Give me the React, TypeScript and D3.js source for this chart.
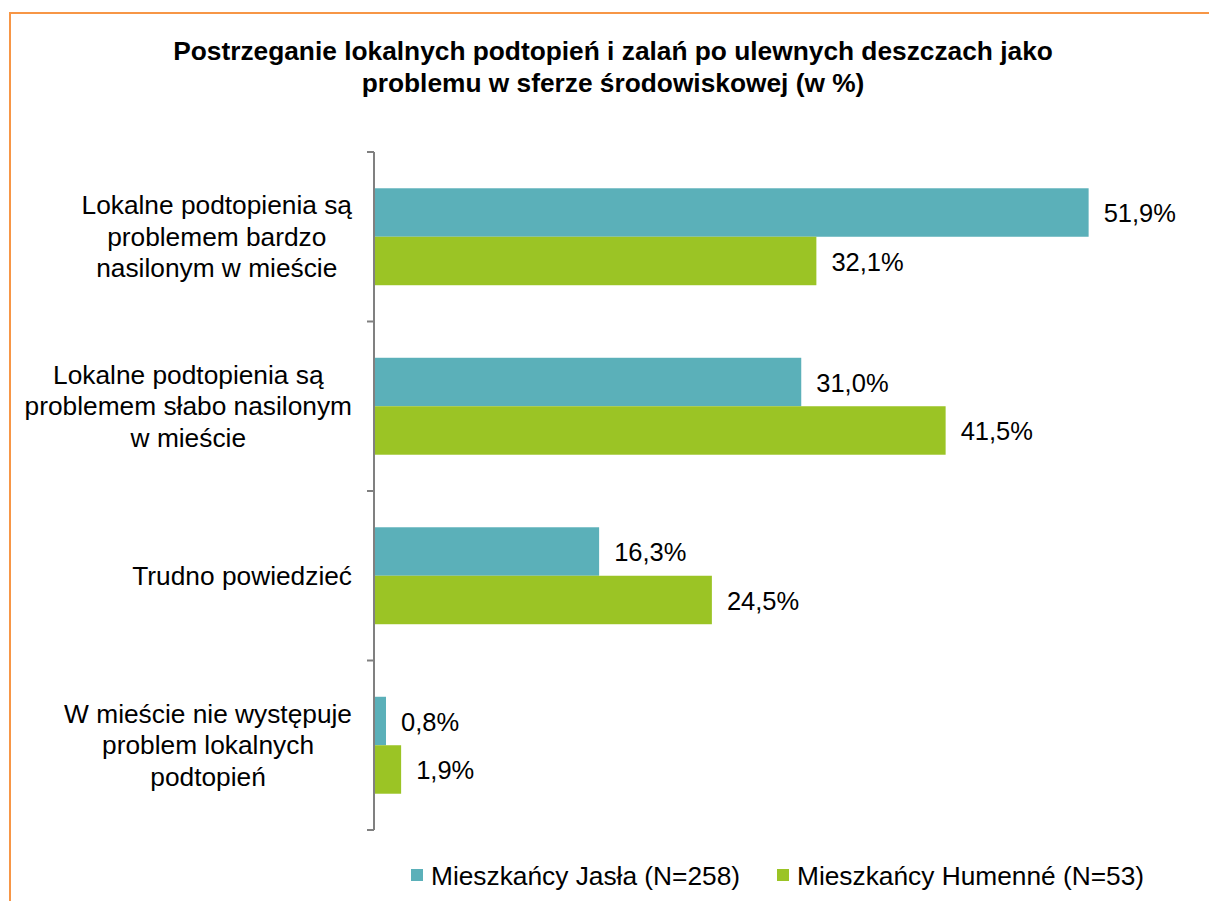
import React, { useEffect, useRef } from 'react';
import { select, scaleBand, scaleLinear } from 'd3';

const categories = [
  ['Lokalne podtopienia są', 'problemem bardzo', 'nasilonym w mieście'],
  ['Lokalne podtopienia są', 'problemem słabo nasilonym', 'w mieście'],
  ['Trudno powiedzieć'],
  ['W mieście nie występuje', 'problem lokalnych', 'podtopień'],
];
const seriesNames = ['Mieszkańcy Jasła (N=258)', 'Mieszkańcy Humenné (N=53)'];
const jaslo = [51.9, 31.0, 16.3, 0.8];
const humenne = [32.1, 41.5, 24.5, 1.9];
const colors = ['#5BB0B9', '#9BC425'];
const titleLines = [
  'Postrzeganie lokalnych podtopień i zalań po ulewnych deszczach jako',
  'problemu w sferze środowiskowej (w %)',
];

const W = 1209;
const H = 901;
const FONT = 'Liberation Sans, Arial, sans-serif';

const fmt = (v: number) => v.toFixed(1).replace('.', ',') + '%';

const App = () => {
  const svgRef = useRef<SVGSVGElement>(null);

  useEffect(() => {
    const svg = select(svgRef.current);
    svg.selectAll('*').remove();

    // frame
    svg.append('rect')
      .attr('x', 10).attr('y', 13)
      .attr('width', W + 50).attr('height', H + 50)
      .attr('fill', 'none')
      .attr('stroke', '#F79646')
      .attr('stroke-width', 2);

    // title
    svg.append('g')
      .selectAll('text')
      .data(titleLines)
      .join('text')
      .attr('x', 613)
      .attr('y', (d, i) => 51 + i * 32)
      .attr('dy', '0.35em')
      .attr('text-anchor', 'middle')
      .attr('font-family', FONT)
      .attr('font-weight', 'bold')
      .attr('font-size', 26.3)
      .text(d => d);

    const idx = categories.map((d, i) => i);
    const y = scaleBand<number>()
      .domain(idx)
      .range([152, 830])
      .paddingInner(0.428)
      .paddingOuter(0.214);
    const sub = scaleBand<number>().domain([0, 1]).range([0, y.bandwidth()]);
    const x = scaleLinear().domain([0, 60]).range([375, 1200]);

    const rows = idx.map(i => [jaslo[i], humenne[i]]);

    const groups = svg.append('g')
      .selectAll('g')
      .data(rows)
      .join('g')
      .attr('transform', (d, i) => `translate(0,${y(i)})`);

    groups.selectAll('rect')
      .data(d => d)
      .join('rect')
      .attr('x', x(0))
      .attr('y', (d, j) => sub(j)!)
      .attr('width', d => x(d) - x(0))
      .attr('height', sub.bandwidth())
      .attr('fill', (d, j) => colors[j]);

    groups.selectAll('text')
      .data(d => d)
      .join('text')
      .attr('x', d => x(d) + 15)
      .attr('y', (d, j) => sub(j)! + sub.bandwidth() / 2 + 1)
      .attr('dy', '0.35em')
      .attr('font-family', FONT)
      .attr('font-size', 25.5)
      .text(d => fmt(d));

    // axis line + ticks at band edges
    const axisG = svg.append('g').attr('stroke', '#808080').attr('stroke-width', 2);
    const top = y.range()[0];
    const bottom = y.range()[1];
    axisG.append('line')
      .attr('x1', x(0) - 1).attr('x2', x(0) - 1)
      .attr('y1', top).attr('y2', bottom);
    axisG.selectAll('.tick')
      .data(idx.concat([categories.length]))
      .join('line')
      .attr('class', 'tick')
      .attr('x1', x(0) - 8).attr('x2', x(0) - 1)
      .attr('y1', i => top + i * y.step())
      .attr('y2', i => top + i * y.step());

    // category labels: block right aligned, lines centered within block
    const lineH = 31.5;
    const rightEdge = 352;
    const labelG = svg.append('g')
      .attr('font-family', FONT)
      .attr('font-size', 26.3);
    categories.forEach((lines, i) => {
      const cy = y(i)! + y.bandwidth() / 2;
      const texts = labelG.selectAll(`.l${i}`)
        .data(lines)
        .join('text')
        .attr('class', `l${i}`)
        .attr('y', (d, k) => cy + (k - (lines.length - 1) / 2) * lineH)
        .attr('dy', '0.35em')
        .attr('text-anchor', 'middle')
        .text(d => d);
      let maxW = 0;
      texts.each(function () {
        maxW = Math.max(maxW, (this as SVGTextElement).getComputedTextLength());
      });
      texts.attr('x', rightEdge - maxW / 2);
    });

    // legend
    const legend = svg.append('g').attr('font-family', FONT).attr('font-size', 26.3);
    const legendX = [411, 777];
    seriesNames.forEach((name, j) => {
      legend.append('rect')
        .attr('x', legendX[j]).attr('y', 869)
        .attr('width', 12).attr('height', 12)
        .attr('fill', colors[j]);
      legend.append('text')
        .attr('x', legendX[j] + 20).attr('y', 876)
        .attr('dy', '0.35em')
        .text(name);
    });
  }, []);

  return (
    <svg
      ref={svgRef}
      width={W}
      height={H}
      style={{ position: 'absolute', left: 0, top: 0, background: '#fff' }}
    />
  );
};

export default App;
